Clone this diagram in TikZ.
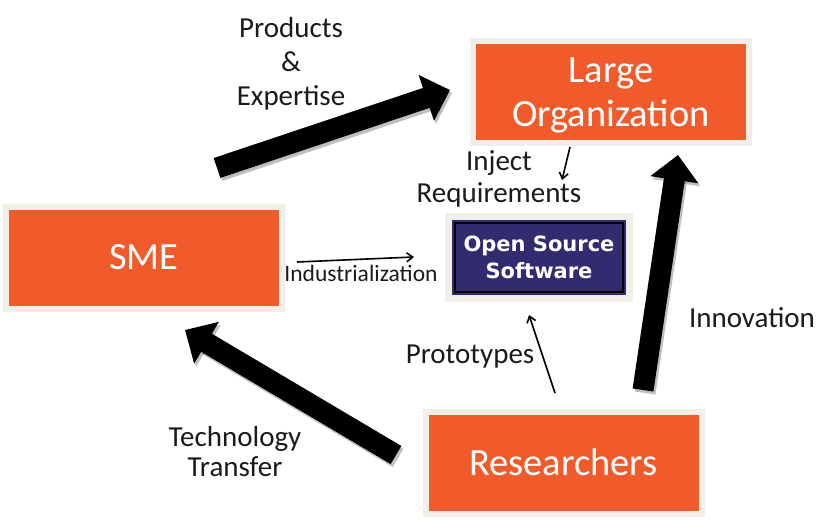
\documentclass[tikz,border=0pt]{standalone}
\usepackage{fontspec}
\setmainfont{Carlito}
\newfontfamily\ossfont{DejaVu Sans}
\usetikzlibrary{arrows.meta}

\definecolor{boxorange}{RGB}{241,90,43}
\definecolor{boxframe}{RGB}{242,239,232}
\definecolor{ossblue}{RGB}{50,43,112}
\definecolor{labelgray}{RGB}{26,26,26}

\tikzset{
  box/.style={fill=boxorange, draw=boxframe, line width=6pt,
    minimum width=276pt, minimum height=102pt, inner sep=0pt,
    text=white, align=center, font=\fontsize{38.5}{44}\selectfont},
  ossbox/.style={fill=ossblue, preaction={draw=boxframe, line width=14pt},
    minimum width=174pt, minimum height=75pt, inner sep=0pt,
    text=white, align=center, font=\ossfont\bfseries\fontsize{21}{27}\selectfont},
  lbl/.style={text=labelgray, align=center, inner sep=0pt,
    font=\fontsize{29}{33}\selectfont},
  bigarrow/.style={line width=21pt, -{Triangle[length=25pt,width=47pt]}},
  bigshadow/.style={bigarrow, draw=black, opacity=0.25},
  thinarrow/.style={line width=1.6pt, -{Straight Barb[length=6pt,width=9pt]}}
}

\begin{document}
\begin{tikzpicture}[x=1pt,y=-1pt]
  \useasboundingbox (0,0) rectangle (829,519);

  % boxes
  \node[box] (sme) at (144,257.5) {SME};
  \node[box, text depth=-5pt] (large) at (611,92) {Large\\Organization};
  \node[box] (res) at (563.5,462.5) {Researchers};
  \node[ossbox] (oss) at (539,257.5) {Open Source\\Software};
  \draw[black, line width=1.8pt] ([shift={(3,3)}]oss.north west) rectangle ([shift={(-3,-3)}]oss.south east);

  % ends of the block arrows
  \coordinate (peA) at (217,168);
  \coordinate (peB) at (450,90);
  \coordinate (ttA) at (396,455);
  \coordinate (ttB) at (185,330);
  \coordinate (inA) at (643,390);
  \coordinate (inB) at (678,155);

  % block arrows with a soft shadow
  \draw[bigshadow] ([shift={(2,3)}]peA) -- ([shift={(2,3)}]peB);
  \draw[bigshadow] ([shift={(2,3)}]ttA) -- ([shift={(2,3)}]ttB);
  \draw[bigshadow] ([shift={(2,3)}]inA) -- ([shift={(2,3)}]inB);
  \draw[bigarrow] (peA) -- (peB);
  \draw[bigarrow] (ttA) -- (ttB);
  \draw[bigarrow] (inA) -- (inB);

  % thin arrows
  \coordinate (ijA) at (570,147);
  \coordinate (ijB) at (562,180);
  \coordinate (idA) at (297,262);
  \coordinate (idB) at (414,257);
  \coordinate (ptA) at (555,393);
  \coordinate (ptB) at (529,315);
  \draw[thinarrow] (ijA) -- (ijB);
  \draw[thinarrow] (idA) -- (idB);
  \draw[thinarrow] (ptA) -- (ptB);

  % labels
  \node[lbl, font=\fontsize{29}{34}\selectfont] (pe) at (291,64) {Products\\\&\\Expertise};
  \node[lbl, font=\fontsize{29}{32}\selectfont] (inject) at (499,179) {Inject\\Requirements};
  \node[lbl, font=\fontsize{23.5}{28}\selectfont] (indus) at (361,273) {Industrialization};
  \node[lbl] (proto) at (470,357) {Prototypes};
  \node[lbl, font=\fontsize{29}{30}\selectfont] (tt) at (235,452) {Technology\\Transfer};
  \node[lbl] (innov) at (752,318) {Innovation};
\end{tikzpicture}
\end{document}
